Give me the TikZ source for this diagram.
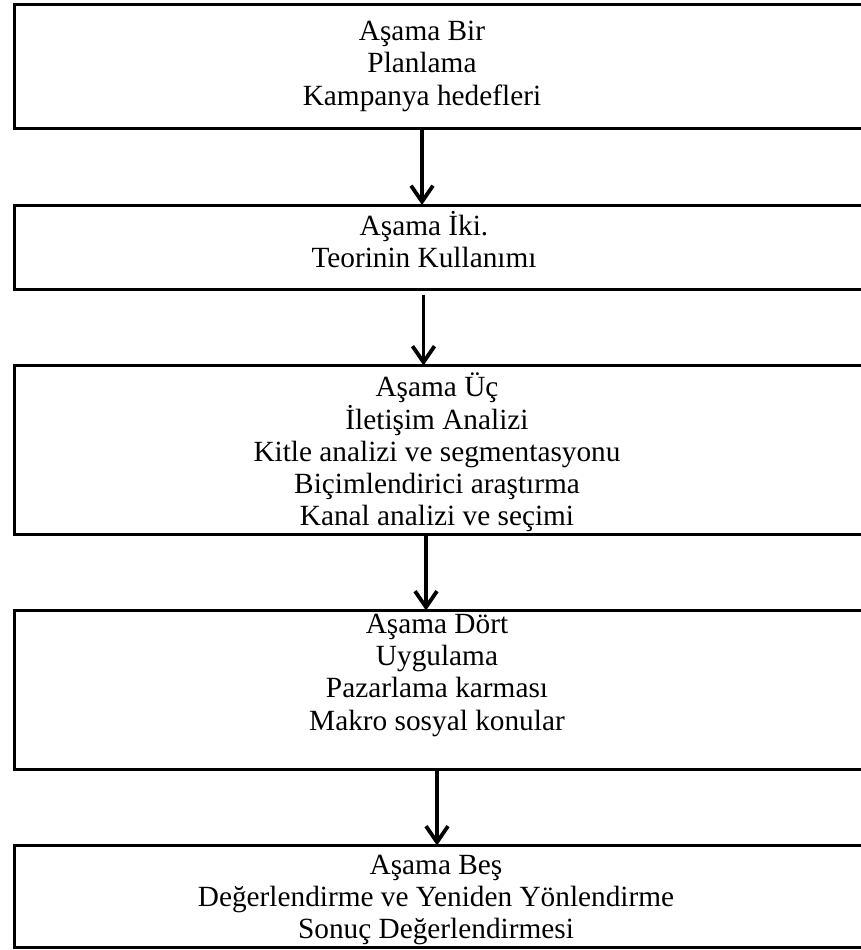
\documentclass[tikz,border=0pt]{standalone}
\usepackage{fontspec}
\setmainfont{Liberation Serif}
\usetikzlibrary{arrows.meta}
\tikzset{
  stage/.style={rectangle, draw=black, line width=3pt, outer sep=0pt, minimum width=852pt},
  stagetext/.style={anchor=north, inner sep=0pt, align=center, font=\fontsize{29.3}{32.2}\selectfont},
  arr/.style={line width=3.8pt, -{Straight Barb[length=16pt,width=22pt]}}
}
\begin{document}
\begin{tikzpicture}[x=1pt,y=-1pt]
	\useasboundingbox (0,0) rectangle (861,950);
	% stage frames
	\node[stage, minimum height=124pt] (b1) at (440,66.5) {};
	\node[stage, minimum height=84.5pt] (b2) at (440,247.25) {};
	\node[stage, minimum height=169pt] (b3) at (440,450) {};
	\node[stage, minimum height=159pt] (b4) at (440,690) {};
	\node[stage, minimum height=101.5pt] (b5) at (440,896.25) {};
	% stage texts
	\node[stagetext] (t1) at (422,21) {Aşama Bir\\Planlama\\Kampanya hedefleri};
	\node[stagetext] (t2) at (424,211) {Aşama İki.\\Teorinin Kullanımı};
	\node[stagetext] (t3) at (437,373) {Aşama Üç\\İletişim Analizi\\Kitle analizi ve segmentasyonu\\Biçimlendirici araştırma\\Kanal analizi ve seçimi};
	\node[stagetext] (t4) at (437,614) {Aşama Dört\\Uygulama\\Pazarlama karması\\Makro sosyal konular};
	\node[stagetext] (t5) at (436,855) {Aşama Beş\\Değerlendirme ve Yeniden Yönlendirme\\Sonuç Değerlendirmesi};
	% arrows
	\draw[arr] ([xshift=-18pt]b1.south) -- ([xshift=-18pt]b2.north);
	\draw[arr] ([xshift=-16.5pt,yshift=-5pt]b2.south) -- ([xshift=-16.5pt]b3.north);
	\draw[arr] ([xshift=-14pt]b3.south) -- ([xshift=-14pt]b4.north);
	\draw[arr] ([xshift=-3pt]b4.south) -- ([xshift=-3pt]b5.north);
\end{tikzpicture}
\end{document}
